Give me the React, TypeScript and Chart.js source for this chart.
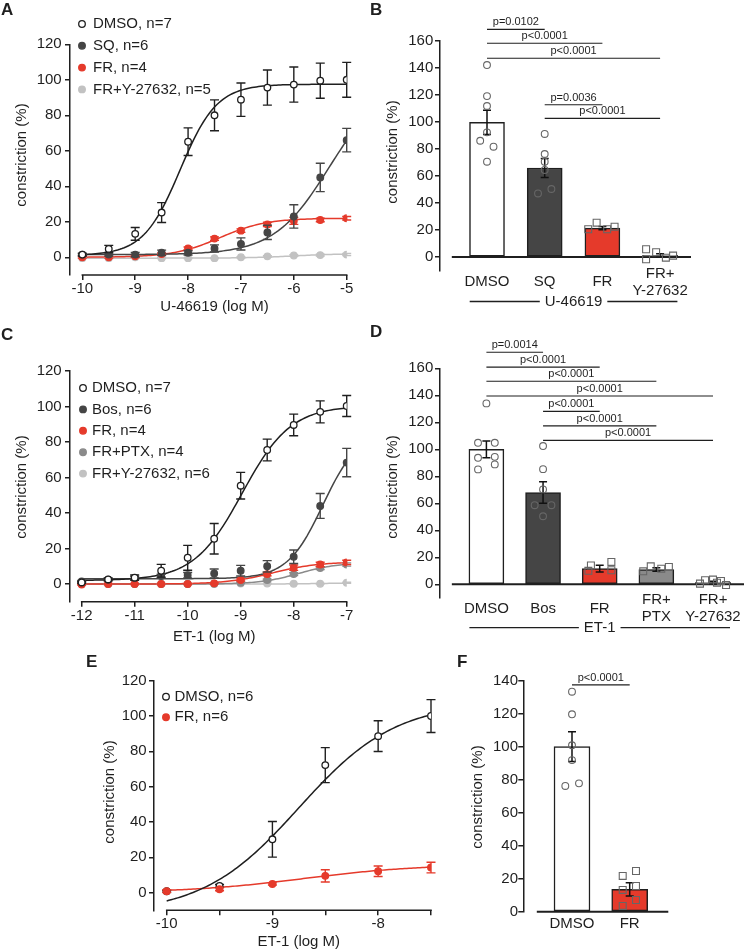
import React, { useEffect, useRef } from 'react';
import { Chart, registerables } from 'chart.js';

Chart.register(...registerables);

const FONT = "'Liberation Sans', Arial, Helvetica, sans-serif";
const INK = '#1f1f1f';
const DARK = '#454545';
const RED = '#e53a2b';
const MID = '#8a8a8a';
const LIGHT = '#c2c2c2';
const PT_EDGE = '#666666';

Chart.defaults.font.family = FONT;

// ---------------- Panel A: U-46619 concentration-response ----------------
const aDoses = [-10, -9.5, -9, -8.5, -8, -7.5, -7, -6.5, -6, -5.5, -5];
const aXTicks = [-10, -9, -8, -7, -6, -5];
const aYTicks = [0, 20, 40, 60, 80, 100, 120];
const aDmso = [1.5, 4.7, 13.2, 25.2, 65.1, 80, 88.8, 95.6, 97.3, 99.5, 100];
const aDmsoSem = [0.8, 2, 3.6, 5.6, 7.8, 8.7, 9.4, 9.9, 9.9, 9.9, 9.8];
const aDmsoFit = [1, 97.5, -8.15, 1.25]; // bottom, top, logEC50, Hill slope
const aSq = [1.5, 1.5, 1.5, 2.5, 2.5, 5, 7.5, 14, 23, 45, 66];
const aSqSem = [0.5, 0.8, 1.2, 1.5, 1.2, 2, 3.4, 4, 6.6, 8, 6.6];
const aSqFit = [1.5, 100, -5.33, 0.83];
const aFr = [0, 0, 0.5, 1.8, 5, 10.5, 15, 18.5, 20.5, 21, 22];
const aFrSem = [0.5, 0.5, 0.5, 0.6, 0.8, 1, 1, 1.2, 2, 1, 1];
const aFrFit = [0, 22, -7.4, 1.0];
const aFrY = [-0.5, -0.5, 0, -0.5, -0.5, -0.5, 0, 0.5, 1, 1.2, 1.5];
const aFrYSem = [0.3, 0.3, 0.3, 0.3, 0.3, 0.3, 0.3, 0.4, 0.5, 0.5, 0.6];
const aFrYFit = [-0.5, 2, -6, 1];

// ---------------- Panel B: U-46619 bar summary ----------------
const bCats: (string | string[])[] = ['DMSO', 'SQ', 'FR', ['FR+', 'Y-27632']];
const bYTicks = [0, 20, 40, 60, 80, 100, 120, 140, 160];
const bMeans = [99.6, 65.8, 21.4, 1.3];
const bSem = [9, 7, 1.2, 1];
const bDmsoPts = [142, 119, 111.7, 92.2, 86, 81.6, 70.5];
const bDmsoJit = [0, 0, 0, 0, -0.118, 0.113, 0];
const bSqPts = [91, 76.2, 70.5, 64.4, 47, 50.3];
const bSqJit = [0, 0, 0, 0, -0.116, 0.116];
const bFrPts = [20.5, 25.4, 20.5, 22.4];
const bFrJit = [-0.246, -0.1, 0.083, 0.211];
const bFrYPts = [5.7, 3.5, -0.5, 1, -1.7];
const bFrYJit = [-0.243, -0.069, 0.1, 0.225, -0.243];
const bPFrom = [0, 0, 0, 1, 1];
const bPTo = [1, 2, 3, 2, 3];
const bPLevel = [168.4, 158.1, 147, 112.6, 102.6];
const bPText = ['p=0.0102', 'p<0.0001', 'p<0.0001', 'p=0.0036', 'p<0.0001'];

// ---------------- Panel C: ET-1 concentration-response ----------------
const cDoses = [-12, -11.5, -11, -10.5, -10, -9.5, -9, -8.5, -8, -7.5, -7];
const cXTicks = [-12, -11, -10, -9, -8, -7];
const cYTicks = [0, 20, 40, 60, 80, 100, 120];
const cDmso = [0.9, 2.6, 3.6, 7.5, 14.8, 25.5, 55.4, 75.5, 89.6, 97, 100.3];
const cDmsoSem = [0.5, 0.8, 1.5, 3.6, 7, 8.6, 7.5, 6.1, 6.1, 6.2, 5.9];
const cDmsoFit = [2, 100.5, -8.97, 0.95];
const cBos = [1.5, 2.5, 3.5, 4.5, 5, 6, 7.5, 10, 15.4, 44, 68.4];
const cBosSem = [0.5, 0.6, 0.8, 1, 1.5, 2.5, 3, 3.2, 3.8, 7, 8];
const cBosFit = [3, 86, -7.45, 1.3];
const cFr = [-0.3, 0, 0, 0, 0, 0.4, 2.3, 5.6, 9.2, 11, 12.2];
const cFrSem = [0.3, 0.3, 0.3, 0.3, 0.3, 0.4, 0.6, 1, 1.5, 1.3, 1.2];
const cFrFit = [0, 12.5, -8.4, 1];
const cPtx = [0, 0, 0, 0, 0, 0.2, 0.7, 2.3, 5.6, 9, 11];
const cPtxSem = [0.2, 0.2, 0.2, 0.2, 0.2, 0.2, 0.3, 0.5, 0.8, 0.8, 0.9];
const cPtxFit = [0, 12, -7.9, 1.2];
const cFrY = [0, 0, 0, 0, 0, 0, 0.3, 0.3, 0.2, 0.2, 0.7];
const cFrYSem = [0.2, 0.2, 0.2, 0.2, 0.2, 0.2, 0.2, 0.2, 0.2, 0.2, 0.3];
const cFrYFit = [0, 0.8, -7.3, 1];

// ---------------- Panel D: ET-1 bar summary ----------------
const dCats: (string | string[])[] = ['DMSO', 'Bos', 'FR', ['FR+', 'PTX'], ['FR+', 'Y-27632']];
const dYTicks = [0, 20, 40, 60, 80, 100, 120, 140, 160];
const dMeans = [99.9, 68, 11.6, 10.9, 1.5];
const dSem = [6.2, 8, 2.5, 1.3, 0.8];
const dDmsoPts = [134, 104.8, 104.8, 93.7, 94.4, 85.1, 88.8];
const dDmsoJit = [0, -0.148, 0.148, -0.148, 0.148, -0.148, 0.148];
const dBosPts = [102.4, 85.3, 70.3, 58.6, 58.6, 50.4];
const dBosJit = [0, 0, 0, -0.148, 0.148, 0];
const dFrPts = [14, 10, 16.6, 10.4];
const dFrJit = [-0.155, -0.2, 0.206, 0.206];
const dPtxPts = [9.6, 13.3, 11.6, 12.8];
const dPtxJit = [-0.232, -0.099, 0.087, 0.221];
const dFrYPts = [0.5, 3, 3.5, 2.5, -0.5, 1.2];
const dFrYJit = [-0.23, -0.14, 0, 0.14, 0.23, 0.07];
const dPFrom = [0, 0, 0, 0, 1, 1, 1];
const dPTo = [1, 2, 3, 4, 2, 3, 4];
const dPLevel = [171.9, 160.8, 150.4, 139.5, 128.1, 117.4, 106.6];
const dPText = ['p=0.0014', 'p<0.0001', 'p<0.0001', 'p<0.0001', 'p<0.0001', 'p<0.0001', 'p<0.0001'];

// ---------------- Panel E: ET-1 (second set) ----------------
const eDoses = [-10, -9.5, -9, -8.5, -8, -7.5];
const eXTicks = [-10, -9.5, -9, -8.5, -8, -7.5];
const eYTicks = [0, 20, 40, 60, 80, 100, 120];
const eDmso = [0.8, 3.8, 30.2, 72.2, 88.6, 100];
const eDmsoSem = [0.5, 0.8, 10.1, 9.9, 8.7, 9.3];
const eDmsoFit = [-12, 108, -8.75, 0.95];
const eFr = [0.8, 1.9, 4.9, 9.5, 12.1, 14.2];
const eFrSem = [0.8, 0.8, 0.6, 3.5, 3, 3];
const eFrFit = [0, 16, -8.7, 0.8];

// ---------------- Panel F: bar summary ----------------
const fCats: (string | string[])[] = ['DMSO', 'FR'];
const fYTicks = [0, 20, 40, 60, 80, 100, 120, 140];
const fMeans = [100.2, 13.6];
const fSem = [9, 4];
const fDmsoPts = [133.5, 119.8, 101, 92, 76.3, 77.9];
const fDmsoJit = [0, 0, 0, 0, -0.116, 0.121];
const fFrPts = [21.7, 24.7, 13.2, 15.6, 7.1, 3.5];
const fFrJit = [-0.121, 0.109, -0.121, 0.109, 0.109, -0.121];
const fPFrom = [0];
const fPTo = [1];
const fPLevel = [137.6];
const fPText = ['p<0.0001'];

// ---------------- helpers ----------------
function hill(p: number[], x: number) {
  const [bottom, top, logEC50, slope] = p;
  return bottom + (top - bottom) / (1 + Math.pow(10, (logEC50 - x) * slope));
}
function fitLine(p: number[], x0: number, x1: number) {
  const pts: { x: number; y: number }[] = [];
  const n = 120;
  for (let i = 0; i <= n; i++) {
    const x = x0 + ((x1 - x0) * i) / n;
    pts.push({ x, y: hill(p, x) });
  }
  return pts;
}

type Series = {
  label: string;
  doses: number[];
  vals: number[];
  sem: number[];
  fit: number[];
  color: string;
  open?: boolean;
  onTop?: boolean;
};

function seriesDatasets(s: Series, x0: number, x1: number) {
  const edge = s.open ? INK : s.color;
  return [
    {
      type: 'scatter',
      label: s.label,
      data: s.doses.map((d, i) => ({ x: d, y: s.vals[i] })),
      sem: s.sem,
      semColor: edge,
      semCap: 4.5,
      pointRadius: 3.3,
      pointBackgroundColor: s.open ? '#ffffff' : s.color,
      pointBorderColor: edge,
      pointBorderWidth: 1.3,
      legendItem: true,
      order: s.onTop ? 0 : 1,
    },
    {
      type: 'scatter',
      label: s.label + ' fit',
      data: fitLine(s.fit, x0, x1),
      showLine: true,
      borderColor: edge,
      borderWidth: 1.5,
      pointRadius: 0,
      order: 2,
    },
  ];
}

function drawErr(chart: any, i: number) {
  const ds = chart.data.datasets[i];
  const meta = chart.getDatasetMeta(i);
  const ys = chart.scales.y;
  const ctx = chart.ctx;
  const cap = ds.semCap ?? 4;
  ctx.save();
  ctx.strokeStyle = ds.semColor || INK;
  ctx.lineWidth = ds.semWidth ?? 1.4;
  meta.data.forEach((el: any, j: number) => {
    const raw = ds.data[j];
    const v = typeof raw === 'number' ? raw : raw.y;
    const e = ds.sem[j];
    if (!e) return;
    const x = el.x;
    const y1 = ys.getPixelForValue(v + e);
    const y2 = ys.getPixelForValue(v - e);
    ctx.beginPath();
    ctx.moveTo(x, y1);
    ctx.lineTo(x, y2);
    ctx.moveTo(x - cap, y1);
    ctx.lineTo(x + cap, y1);
    ctx.moveTo(x - cap, y2);
    ctx.lineTo(x + cap, y2);
    ctx.stroke();
  });
  ctx.restore();
}

const errPlugin = {
  id: 'errbars',
  beforeDatasetDraw(chart: any, args: any) {
    const ds = chart.data.datasets[args.index];
    if (ds.sem && !ds.semAfter) drawErr(chart, args.index);
  },
  afterDatasetDraw(chart: any, args: any) {
    const ds = chart.data.datasets[args.index];
    if (ds.sem && ds.semAfter) drawErr(chart, args.index);
  },
};

type Deco = {
  letter: string;
  letterX: number;
  letterY: number;
  yTitleX: number;
  yTitleY: number;
  xTitle?: string;
  xTitleY?: number;
  xLine?: number[];
  legend?: { mx: number; tx: number; y0: number; dy: number };
  baseFrom?: number;
  cats?: (string | string[])[];
  catY?: number;
  group?: { text: string; from: number; to: number; y: number };
  brackets?: { from: number[]; to: number[]; level: number[]; text: string[] };
};

function decoPlugin(d: Deco) {
  return {
    id: 'deco',
    beforeDatasetsDraw(chart: any) {
      if (d.baseFrom === undefined) return;
      const { ctx, chartArea } = chart;
      const xs = chart.scales.x;
      const ys = chart.scales.y;
      const y = ys.getPixelForValue(0);
      ctx.save();
      ctx.strokeStyle = INK;
      ctx.lineWidth = 2;
      ctx.beginPath();
      ctx.moveTo(xs.getPixelForValue(d.baseFrom), y);
      ctx.lineTo(chartArea.right, y);
      ctx.stroke();
      ctx.restore();
    },
    afterDraw(chart: any) {
      const { ctx, chartArea } = chart;
      const xs = chart.scales.x;
      const ys = chart.scales.y;
      ctx.save();
      ctx.fillStyle = INK;
      ctx.strokeStyle = INK;
      ctx.textBaseline = 'middle';

      // panel letter
      ctx.font = `bold 17px ${FONT}`;
      ctx.textAlign = 'left';
      ctx.fillText(d.letter, d.letterX, d.letterY);

      // y title
      ctx.font = `15px ${FONT}`;
      ctx.save();
      ctx.translate(d.yTitleX, d.yTitleY);
      ctx.rotate(-Math.PI / 2);
      ctx.textAlign = 'center';
      ctx.fillText('constriction (%)', 0, 0);
      ctx.restore();

      // x axis line (detached style) + title
      if (d.xLine) {
        const x1 = xs.getPixelForValue(d.xLine[0]);
        const x2 = xs.getPixelForValue(d.xLine[1]);
        ctx.lineWidth = 1.5;
        ctx.beginPath();
        ctx.moveTo(x1 - 0.75, chartArea.bottom);
        ctx.lineTo(x2 + 0.75, chartArea.bottom);
        ctx.stroke();
        if (d.xTitle) {
          ctx.textAlign = 'center';
          ctx.font = `15px ${FONT}`;
          ctx.fillText(d.xTitle, (x1 + x2) / 2, d.xTitleY);
        }
      }

      // category labels under bars
      if (d.cats && d.catY !== undefined) {
        ctx.font = `15px ${FONT}`;
        ctx.textAlign = 'center';
        ctx.fillStyle = INK;
        const lh = 16.8;
        d.cats.forEach((c, i) => {
          const lines = Array.isArray(c) ? c : [c];
          const x = xs.getPixelForValue(i);
          const y0 = d.catY! - ((lines.length - 1) * lh) / 2;
          lines.forEach((t, k) => ctx.fillText(t, x, y0 + k * lh));
        });
      }

      // legend
      if (d.legend) {
        const items = chart.data.datasets.filter((ds: any) => ds.legendItem);
        items.forEach((ds: any, k: number) => {
          const y = d.legend!.y0 + k * d.legend!.dy;
          ctx.beginPath();
          ctx.arc(d.legend!.mx, y, 3.3, 0, Math.PI * 2);
          ctx.fillStyle = ds.pointBackgroundColor;
          ctx.fill();
          ctx.lineWidth = 1.3;
          ctx.strokeStyle = ds.pointBorderColor;
          ctx.stroke();
          ctx.fillStyle = INK;
          ctx.font = `15px ${FONT}`;
          ctx.textAlign = 'left';
          ctx.fillText(ds.label, d.legend!.tx, y);
        });
      }

      // group label with side rules
      if (d.group) {
        const g = d.group;
        const x1 = xs.getPixelForValue(g.from);
        const x2 = xs.getPixelForValue(g.to);
        const mid = (x1 + x2) / 2;
        ctx.font = `15px ${FONT}`;
        const w = ctx.measureText(g.text).width;
        ctx.fillStyle = INK;
        ctx.textAlign = 'center';
        ctx.fillText(g.text, mid, g.y);
        ctx.strokeStyle = INK;
        ctx.lineWidth = 1.3;
        ctx.beginPath();
        ctx.moveTo(x1, g.y);
        ctx.lineTo(mid - w / 2 - 5, g.y);
        ctx.moveTo(mid + w / 2 + 5, g.y);
        ctx.lineTo(x2, g.y);
        ctx.stroke();
      }

      // significance brackets
      if (d.brackets) {
        const b = d.brackets;
        ctx.font = `11px ${FONT}`;
        ctx.textAlign = 'center';
        ctx.lineWidth = 1.2;
        b.level.forEach((lv, k) => {
          const x1 = xs.getPixelForValue(b.from[k]);
          const x2 = xs.getPixelForValue(b.to[k]);
          const y = ys.getPixelForValue(lv);
          ctx.strokeStyle = INK;
          ctx.beginPath();
          ctx.moveTo(x1, y);
          ctx.lineTo(x2, y);
          ctx.stroke();
          ctx.fillStyle = INK;
          ctx.fillText(b.text[k], (x1 + x2) / 2, y - 7);
        });
      }
      ctx.restore();
    },
  };
}

const W = 750;
const H = 952;
const YW = 40;
const XH = 30;

function padFor(L: number, T: number, R: number, B: number) {
  return { left: L - YW, top: T, right: W - R, bottom: H - B - XH };
}

function yScale(min: number, max: number, ticks: number[], pad: number) {
  return {
    type: 'linear',
    min,
    max,
    afterBuildTicks: (s: any) => {
      s.ticks = ticks.map((v) => ({ value: v }));
    },
    afterFit: (s: any) => {
      s.width = YW;
    },
    ticks: {
      color: INK,
      padding: pad,
      font: { size: 15, family: FONT },
      callback: (v: any) => String(v),
    },
    grid: {
      display: true,
      drawOnChartArea: false,
      drawTicks: true,
      tickLength: 5,
      color: INK,
      lineWidth: 1.5,
    },
    border: { display: true, color: INK, width: 1.5 },
  };
}

function curveXScale(min: number, max: number, ticks: number[]) {
  return {
    type: 'linear',
    min,
    max,
    afterBuildTicks: (s: any) => {
      s.ticks = ticks.map((v) => ({ value: v }));
    },
    afterFit: (s: any) => {
      s.height = XH;
    },
    ticks: {
      color: INK,
      padding: 0,
      autoSkip: false,
      maxRotation: 0,
      minRotation: 0,
      font: { size: 15, family: FONT },
      callback: (v: any) => (Number.isInteger(v) ? String(v) : ''),
    },
    grid: {
      display: true,
      drawOnChartArea: false,
      drawTicks: true,
      tickLength: 5,
      color: INK,
      lineWidth: 1.5,
    },
    border: { display: false },
  };
}

function barXScale(min: number, max: number, n: number) {
  return {
    type: 'linear',
    min,
    max,
    offset: false,
    afterBuildTicks: (s: any) => {
      s.ticks = Array.from({ length: n }, (_, i) => ({ value: i }));
    },
    afterFit: (s: any) => {
      s.height = XH;
    },
    ticks: { display: false },
    grid: { display: false, drawTicks: false, offset: false },
    border: { display: false },
  };
}

function curveConfig(p: {
  area: number[];
  xMin: number;
  xMax: number;
  xTicks: number[];
  yTicks: number[];
  yPad: number;
  series: Series[];
  range: number[];
  deco: Deco;
}) {
  const [L, T, R, B] = p.area;
  const datasets: any[] = [];
  p.series.forEach((s) => datasets.push(...seriesDatasets(s, p.range[0], p.range[1])));
  return {
    type: 'scatter',
    data: { datasets },
    options: {
      responsive: false,
      animation: false,
      events: [],
      layout: { padding: padFor(L, T, R, B) },
      plugins: { legend: { display: false }, tooltip: { enabled: false } },
      scales: {
        x: curveXScale(p.xMin, p.xMax, p.xTicks),
        y: yScale(-10, 120, p.yTicks, p.yPad),
      },
    },
    plugins: [errPlugin, decoPlugin(p.deco)],
  };
}

type PtSet = { vals: number[]; jit: number[]; cat: number; square?: boolean };

function barConfig(p: {
  area: number[];
  xMin: number;
  xMax: number;
  yMin: number;
  yMax: number;
  yTicks: number[];
  yPad: number;
  cats: (string | string[])[];
  means: number[];
  sem: number[];
  colors: string[];
  thickness: number;
  pts: PtSet[];
  deco: Deco;
}) {
  const [L, T, R, B] = p.area;
  const datasets: any[] = p.pts.map((ps) => ({
    type: 'scatter',
    data: ps.vals.map((v, i) => ({ x: ps.cat + ps.jit[i], y: v })),
    pointStyle: ps.square ? 'rect' : 'circle',
    pointRadius: ps.square ? 4.9 : 3.4,
    pointBackgroundColor: 'rgba(0,0,0,0)',
    pointBorderColor: PT_EDGE,
    pointBorderWidth: 1.1,
    order: 1,
  }));
  datasets.push({
    type: 'bar',
    data: p.means.map((m, i) => ({ x: i, y: m })),
    backgroundColor: p.colors,
    borderColor: INK,
    borderWidth: 1.5,
    borderSkipped: false,
    barThickness: p.thickness,
    sem: p.sem,
    semAfter: true,
    semColor: '#111111',
    semCap: 4,
    semWidth: 1.5,
    order: 2,
  });
  return {
    type: 'bar',
    data: { datasets },
    options: {
      responsive: false,
      animation: false,
      events: [],
      layout: { padding: padFor(L, T, R, B) },
      plugins: { legend: { display: false }, tooltip: { enabled: false } },
      scales: {
        x: barXScale(p.xMin, p.xMax, p.cats.length),
        y: yScale(p.yMin, p.yMax, p.yTicks, p.yPad),
      },
    },
    plugins: [errPlugin, decoPlugin({ ...p.deco, cats: p.cats })],
  };
}

// ---------------- panel builders ----------------
const builders: (() => any)[] = [
  () =>
    curveConfig({
      area: [70, 44.3, 346.7, 275],
      xMin: -10.233,
      xMax: -5,
      xTicks: aXTicks,
      yTicks: aYTicks,
      yPad: 3.3,
      range: [-10, -5],
      series: [
        { label: 'DMSO, n=7', doses: aDoses, vals: aDmso, sem: aDmsoSem, fit: aDmsoFit, color: INK, open: true },
        { label: 'SQ, n=6', doses: aDoses, vals: aSq, sem: aSqSem, fit: aSqFit, color: DARK },
        { label: 'FR, n=4', doses: aDoses, vals: aFr, sem: aFrSem, fit: aFrFit, color: RED },
        { label: 'FR+Y-27632, n=5', doses: aDoses, vals: aFrY, sem: aFrYSem, fit: aFrYFit, color: LIGHT },
      ],
      deco: {
        letter: 'A',
        letterX: 1,
        letterY: 10,
        yTitleX: 22,
        yTitleY: 155,
        xTitle: 'U-46619 (log M)',
        xTitleY: 307,
        xLine: [-10, -5],
        legend: { mx: 82, tx: 93, y0: 24, dy: 21.8 },
      },
    }),
  () =>
    barConfig({
      area: [440, 40.7, 691, 270.5],
      xMin: -0.8146,
      xMax: 3.5355,
      yMin: -10,
      yMax: 160,
      yTicks: bYTicks,
      yPad: 1.7,
      cats: bCats,
      means: bMeans,
      sem: bSem,
      colors: ['#ffffff', DARK, RED, LIGHT],
      thickness: 35,
      pts: [
        { vals: bDmsoPts, jit: bDmsoJit, cat: 0 },
        { vals: bSqPts, jit: bSqJit, cat: 1 },
        { vals: bFrPts, jit: bFrJit, cat: 2, square: true },
        { vals: bFrYPts, jit: bFrYJit, cat: 3, square: true },
      ],
      deco: {
        letter: 'B',
        letterX: 370,
        letterY: 10,
        yTitleX: 393,
        yTitleY: 152,
        baseFrom: -0.61,
        catY: 282,
        group: { text: 'U-46619', from: -0.3, to: 3.3, y: 301.5 },
        brackets: { from: bPFrom, to: bPTo, level: bPLevel, text: bPText },
      },
    }),
  () =>
    curveConfig({
      area: [70, 371, 346.7, 601.8],
      xMin: -12.22,
      xMax: -7,
      xTicks: cXTicks,
      yTicks: cYTicks,
      yPad: 3.3,
      range: [-12, -7],
      series: [
        { label: 'DMSO, n=7', doses: cDoses, vals: cDmso, sem: cDmsoSem, fit: cDmsoFit, color: INK, open: true },
        { label: 'Bos, n=6', doses: cDoses, vals: cBos, sem: cBosSem, fit: cBosFit, color: DARK },
        { label: 'FR, n=4', doses: cDoses, vals: cFr, sem: cFrSem, fit: cFrFit, color: RED },
        { label: 'FR+PTX, n=4', doses: cDoses, vals: cPtx, sem: cPtxSem, fit: cPtxFit, color: MID },
        { label: 'FR+Y-27632, n=6', doses: cDoses, vals: cFrY, sem: cFrYSem, fit: cFrYFit, color: LIGHT },
      ],
      deco: {
        letter: 'C',
        letterX: 1,
        letterY: 335,
        yTitleX: 22,
        yTitleY: 487,
        xTitle: 'ET-1 (log M)',
        xTitleY: 637,
        xLine: [-12, -7],
        legend: { mx: 83, tx: 92, y0: 388, dy: 21.4 },
      },
    }),
  () =>
    barConfig({
      area: [440, 368.3, 748, 597.8],
      xMin: -0.819,
      xMax: 4.547,
      yMin: -10,
      yMax: 160,
      yTicks: dYTicks,
      yPad: 1.7,
      cats: dCats,
      means: dMeans,
      sem: dSem,
      colors: ['#ffffff', DARK, RED, MID, LIGHT],
      thickness: 35,
      pts: [
        { vals: dDmsoPts, jit: dDmsoJit, cat: 0 },
        { vals: dBosPts, jit: dBosJit, cat: 1 },
        { vals: dFrPts, jit: dFrJit, cat: 2, square: true },
        { vals: dPtxPts, jit: dPtxJit, cat: 3, square: true },
        { vals: dFrYPts, jit: dFrYJit, cat: 4, square: true },
      ],
      deco: {
        letter: 'D',
        letterX: 370,
        letterY: 332,
        yTitleX: 393,
        yTitleY: 487,
        baseFrom: -0.61,
        catY: 608.7,
        group: { text: 'ET-1', from: -0.3, to: 4.3, y: 627.7 },
        brackets: { from: dPFrom, to: dPTo, level: dPLevel, text: dPText },
      },
    }),
  () =>
    curveConfig({
      area: [154, 680.7, 431, 910.3],
      xMin: -10.12,
      xMax: -7.5,
      xTicks: eXTicks,
      yTicks: eYTicks,
      yPad: 2.3,
      range: [-10, -7.5],
      series: [
        { label: 'DMSO, n=6', doses: eDoses, vals: eDmso, sem: eDmsoSem, fit: eDmsoFit, color: INK, open: true },
        { label: 'FR, n=6', doses: eDoses, vals: eFr, sem: eFrSem, fit: eFrFit, color: RED, onTop: true },
      ],
      deco: {
        letter: 'E',
        letterX: 86,
        letterY: 662.5,
        yTitleX: 110,
        yTitleY: 792,
        xTitle: 'ET-1 (log M)',
        xTitleY: 942,
        xLine: [-10, -7.5],
        legend: { mx: 166, tx: 174.5, y0: 696.7, dy: 20.6 },
      },
    }),
  () =>
    barConfig({
      area: [523.3, 681, 668.3, 911.7],
      xMin: -0.844,
      xMax: 1.669,
      yMin: 0,
      yMax: 140,
      yTicks: fYTicks,
      yPad: 0.3,
      cats: fCats,
      means: fMeans,
      sem: fSem,
      colors: ['#ffffff', RED],
      thickness: 36,
      pts: [
        { vals: fDmsoPts, jit: fDmsoJit, cat: 0 },
        { vals: fFrPts, jit: fFrJit, cat: 1, square: true },
      ],
      deco: {
        letter: 'F',
        letterX: 457,
        letterY: 662.5,
        yTitleX: 478.3,
        yTitleY: 797,
        baseFrom: -0.61,
        catY: 924,
        brackets: { from: fPFrom, to: fPTo, level: fPLevel, text: fPText },
      },
    }),
];

function ChartCanvas({ build }: { build: () => any }) {
  const ref = useRef<HTMLCanvasElement>(null);
  useEffect(() => {
    const chart = new Chart(ref.current as HTMLCanvasElement, build());
    return () => chart.destroy();
  }, [build]);
  return (
    <canvas
      ref={ref}
      width={W}
      height={H}
      style={{ position: 'absolute', left: 0, top: 0, width: W, height: H }}
    />
  );
}

export default function App() {
  return (
    <div
      style={{
        position: 'absolute',
        left: 0,
        top: 0,
        width: W,
        height: H,
        background: '#ffffff',
        overflow: 'hidden',
      }}
    >
      {builders.map((b, i) => (
        <ChartCanvas key={i} build={b} />
      ))}
    </div>
  );
}
